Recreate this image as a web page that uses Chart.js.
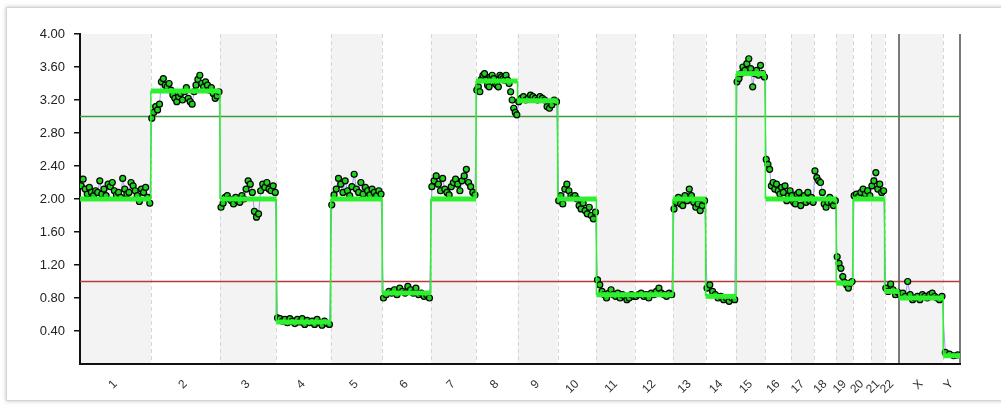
<!DOCTYPE html>
<html>
<head>
<meta charset="utf-8">
<script src="https://cdn.jsdelivr.net/npm/chart.js@4.4.0/dist/chart.umd.min.js"></script>
<style>
  html, body { margin: 0; padding: 0; background: #fff; }
  .frame {
    position: absolute; left: 6px; top: 7px; width: 1010px; height: 392px;
    border: 1px solid #d4d4d4; box-shadow: 0 0 4px rgba(0,0,0,0.25);
  }
  #cnv { position: absolute; left: 0; top: 0; }
</style>
</head>
<body>
<div class="frame"></div>
<canvas id="cnv" width="1001" height="405"></canvas>
<script>
// chromosome names and sizes (Mb)
const chromNames = ['1','2','3','4','5','6','7','8','9','10','11','12','13','14','15','16','17','18','19','20','21','22','X','Y'];
const chromSizes = [249,243,198,191,181,171,159,146,141,136,135,134,115,107,103,90,81,78,59,63,48,51,155,59];

// y axis ticks
const yTicks = [0.4, 0.8, 1.2, 1.6, 2.0, 2.4, 2.8, 3.2, 3.6, 4.0];

// copy number values read per chromosome
const chr1 = [2.16,2.24,2.12,2.06,2.14,2.08,2.04,2.10,2.08,2.22,2.06,2.12,2.04,2.18,2.15,2.20,2.10,2.05,2.08,2.02,2.25,2.12,2.06,2.08,2.20,2.16,2.10,2.04,1.97,2.12,2.08,2.14,2.02,1.95];
const chr2 = [2.98,3.05,3.12,3.08,3.15,3.42,3.46,3.38,3.36,3.40,3.32,3.26,3.22,3.18,3.24,3.28,3.20,3.30,3.35,3.22,3.18,3.15,3.30,3.38,3.45,3.50,3.40,3.36,3.42,3.38,3.32,3.35,3.28,3.22,3.25,3.30];
const chr3 = [1.90,1.95,2.02,2.04,2.00,1.98,1.94,2.02,1.98,1.96,2.04,2.00,2.12,2.22,2.18,2.08,1.85,1.78,1.82,2.10,2.18,2.14,2.20,2.12,2.10,2.16,2.08];
const chr4 = [0.56,0.55,0.52,0.54,0.50,0.55,0.52,0.49,0.54,0.51,0.55,0.48,0.53,0.50,0.52,0.48,0.54,0.50,0.47,0.52,0.49,0.48];
const chr5 = [1.93,2.05,2.12,2.25,2.18,2.08,2.22,2.10,2.04,2.15,2.30,2.12,2.08,2.20,2.06,2.14,2.10,2.05,2.12,2.08,2.04,2.10,2.06];
const chr6 = [0.80,0.84,0.88,0.86,0.90,0.84,0.92,0.88,0.86,0.94,0.90,0.86,0.92,0.84,0.86,0.82,0.84,0.80];
const chr7 = [2.15,2.22,2.28,2.18,2.10,2.25,2.12,2.08,2.05,2.15,2.20,2.24,2.18,2.10,2.22,2.28,2.36,2.20,2.15,2.08,2.05];
const chr8 = [3.32,3.36,3.30,3.45,3.50,3.52,3.44,3.38,3.36,3.48,3.50,3.46,3.40,3.38,3.36,3.50,3.48,3.46,3.44,3.50,3.44,3.40,3.30,3.20,3.10,3.05,3.02];
const chr9 = [3.18,3.22,3.24,3.20,3.22,3.26,3.24,3.22,3.20,3.24,3.22,3.20,3.12,3.10,3.14,3.20,3.18];
const chr10 = [1.98,2.04,1.94,2.12,2.18,2.10,2.04,2.02,2.04,2.00,1.92,1.88,1.95,1.86,1.82,1.90,1.80,1.76,1.84];
const chr11 = [1.02,0.96,0.88,0.84,0.80,0.86,0.90,0.84,0.82,0.86,0.80,0.84,0.82,0.78,0.80,0.84,0.82];
const chr12 = [0.82,0.84,0.86,0.82,0.84,0.80,0.86,0.84,0.88,0.92,0.86,0.84,0.82,0.86,0.84];
const chr13 = [1.88,1.96,2.02,1.94,1.92,2.04,1.98,2.12,2.04,1.96,1.90,1.94,1.86,1.92,1.98];
const chr14 = [0.92,0.96,0.88,0.84,0.80,0.82,0.78,0.80,0.76,0.80,0.78];
const chr15 = [3.42,3.46,3.52,3.60,3.56,3.64,3.70,3.58,3.36,3.52,3.56,3.50,3.62,3.52,3.48];
const chr16 = [2.48,2.42,2.36,2.16,2.20,2.12,2.18,2.10,2.06,2.14,2.08,2.16,1.98,2.04,2.10];
const chr17 = [2.04,1.96,1.94,2.06,2.08,1.92,2.02,2.04,1.96,2.08,1.98,2.02,1.96];
const chr18 = [2.34,2.26,2.22,2.20,2.08,1.94,1.90,1.96,2.02,1.96,1.92,1.98];
const chr19 = [1.30,1.22,1.16,1.06,0.99,0.96,0.92,0.98,1.00];
const chr20 = [2.04,2.06,2.03,2.08,2.12,2.06,2.10,2.04];
const chr21 = [2.16,2.22,2.32,2.12,2.18,2.08,2.10];
const chr22 = [0.92,0.88,0.97,0.90,0.84,0.87];
const chrX = [0.84,0.86,0.82,1.00,0.84,0.78,0.80,0.82,0.78,0.84,0.82,0.80,0.84,0.86,0.82,0.80,0.78,0.82];
const chrY = [0.14,0.12,0.10,0.11];
const pointValues = [chr1,chr2,chr3,chr4,chr5,chr6,chr7,chr8,chr9,chr10,chr11,chr12,chr13,chr14,chr15,chr16,chr17,chr18,chr19,chr20,chr21,chr22,chrX,chrY];

// segmentation: first chromosome, last chromosome, level
const segFrom  = ['1','2','3','4','5','6','7','8','9','10','11','13','14','15','16','19','20','22','X','Y'];
const segTo    = ['1','2','3','4','5','6','7','8','9','10','12','13','14','15','18','19','21','22','X','Y'];
const segLevel = [2.00,3.31,2.00,0.51,2.00,0.86,2.00,3.43,3.19,2.00,0.84,2.00,0.82,3.52,2.00,0.98,2.00,0.88,0.80,0.10];

// reference lines
const gainLevel = 3.0;
const lossLevel = 1.0;

// derived positions
const starts = [];
let acc = 0;
chromSizes.forEach(s => { starts.push(acc); acc += s; });
const total = acc;
const centers = starts.map((s, i) => s + chromSizes[i] / 2);

const points = [];
pointValues.forEach((vals, c) => {
    vals.forEach((v, i) => {
        points.push({ x: starts[c] + chromSizes[c] * (i + 0.5) / vals.length, y: v });
    });
});

const segPoints = [];
segFrom.forEach((f, i) => {
    const a = chromNames.indexOf(f), b = chromNames.indexOf(segTo[i]);
    segPoints.push({ x: starts[a], y: segLevel[i] });
    segPoints.push({ x: starts[b] + chromSizes[b], y: segLevel[i] });
});

// bands and chromosome dividers
const bands = {
    id: 'bands',
    beforeDraw(chart) {
        const { ctx, chartArea: a, scales: { x } } = chart;
        ctx.save();
        starts.forEach((s, i) => {
            const x0 = x.getPixelForValue(s), x1 = x.getPixelForValue(s + chromSizes[i]);
            if (i % 2 === 0) {
                ctx.fillStyle = '#f3f3f3';
                ctx.fillRect(x0, a.top, x1 - x0, a.bottom - a.top);
            }
        });
        ctx.strokeStyle = '#d6d6d6';
        ctx.lineWidth = 1;
        ctx.setLineDash([4, 3]);
        starts.forEach((s, i) => {
            if (i === 0 || chromNames[i] === 'X') return;
            const px = Math.round(x.getPixelForValue(s)) + 0.5;
            ctx.beginPath(); ctx.moveTo(px, a.top); ctx.lineTo(px, a.bottom); ctx.stroke();
        });
        ctx.setLineDash([]);
        ctx.strokeStyle = '#7a7a7a';
        ctx.lineWidth = 2;
        [starts[chromNames.indexOf('X')], total].forEach(v => {
            const px = Math.round(x.getPixelForValue(v));
            ctx.beginPath(); ctx.moveTo(px, a.top); ctx.lineTo(px, a.bottom); ctx.stroke();
        });
        ctx.restore();
    }
};

new Chart(document.getElementById('cnv'), {
    type: 'scatter',
    data: {
        datasets: [
            {
                type: 'line',
                data: segPoints,
                borderColor: '#2ef02e',
                pointRadius: 0,
                tension: 0,
                segment: {
                    borderWidth: c => c.p0.parsed.y === c.p1.parsed.y ? 5 : 1.5
                },
                order: 0
            },
            {
                type: 'line',
                data: points,
                showLine: true,
                borderColor: 'rgba(120,120,230,0.7)',
                borderWidth: 1,
                pointRadius: 3,
                pointBackgroundColor: '#1ed21e',
                pointBorderColor: '#000',
                pointBorderWidth: 1.2,
                order: 1
            },
            {
                type: 'line',
                data: [{ x: 0, y: gainLevel }, { x: total, y: gainLevel }],
                borderColor: '#3f9a3f',
                borderWidth: 1.5,
                pointRadius: 0,
                order: 2
            },
            {
                type: 'line',
                data: [{ x: 0, y: lossLevel }, { x: total, y: lossLevel }],
                borderColor: '#b43c3c',
                borderWidth: 1.5,
                pointRadius: 0,
                order: 2
            }
        ]
    },
    options: {
        responsive: false,
        animation: false,
        events: [],
        layout: { padding: { left: 20, top: 34, right: 41, bottom: 11 } },
        plugins: { legend: { display: false }, tooltip: { enabled: false } },
        scales: {
            x: {
                type: 'linear',
                min: 0,
                max: total,
                afterBuildTicks: s => { s.ticks = centers.map(v => ({ value: v })); },
                afterFit: s => { s.height = 30; },
                grid: { display: false },
                border: { color: '#111', width: 2 },
                ticks: {
                    autoSkip: false,
                    minRotation: 45,
                    maxRotation: 45,
                    padding: 5,
                    color: '#333',
                    font: { family: 'Liberation Sans, Arial, sans-serif', size: 12 },
                    callback: (v, i) => chromNames[i]
                }
            },
            y: {
                min: 0,
                max: 4,
                afterBuildTicks: s => { s.ticks = yTicks.map(v => ({ value: v })); },
                afterFit: s => { s.width = 60; },
                grid: { drawOnChartArea: false, drawTicks: true, tickLength: 6, tickColor: '#111', lineWidth: 1.5 },
                border: { color: '#111', width: 2 },
                ticks: {
                    padding: 9,
                    color: '#222',
                    font: { family: 'Liberation Sans, Arial, sans-serif', size: 13 },
                    callback: v => v.toFixed(2)
                }
            }
        }
    },
    plugins: [bands]
});
</script>
</body>
</html>
